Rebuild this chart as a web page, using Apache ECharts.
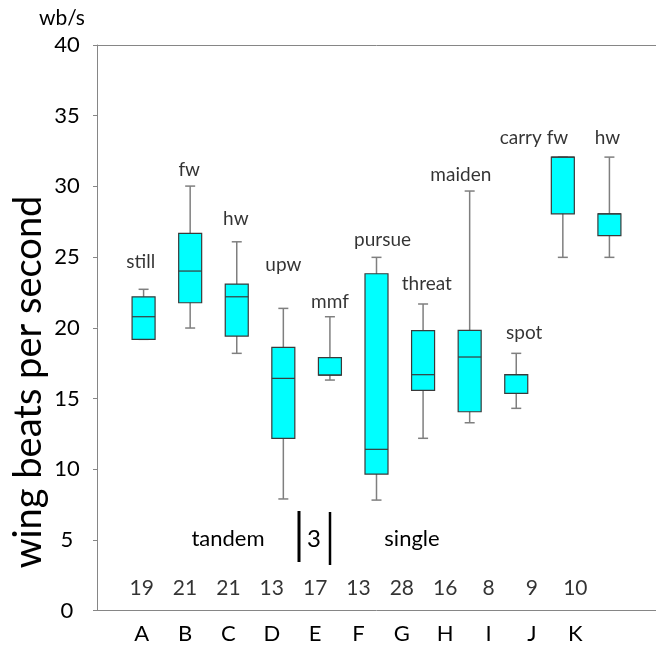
<!DOCTYPE html>
<html><head><meta charset="utf-8">
<script src="https://cdn.jsdelivr.net/npm/echarts@6/dist/echarts.min.js"></script>
<style>html,body{margin:0;padding:0;background:#fff}#c{width:656px;height:645px}</style>
</head><body><div id="c"></div>
<script>
// ---- data ----
const categories = ['A','B','C','D','E','F','G','H','I','J','K'];
const counts = [19, 21, 21, 13, 17, 13, 28, 16, 8, 9, 10];
const whiskerLow  = [19.18, 19.98, 18.19,  7.89, 16.30,  7.81, 12.18, 13.28, 14.30, 24.98, 24.98];
const q1          = [19.18, 21.77, 19.41, 12.18, 16.65,  9.65, 15.57, 14.06, 15.36, 28.06, 26.51];
const median      = [20.78, 24.01, 22.19, 16.42, 16.65, 11.40, 16.68, 17.93, 16.68, 32.07, 28.06];
const q3          = [22.19, 26.68, 23.09, 18.61, 17.88, 23.82, 19.79, 19.82, 16.68, 32.07, 28.06];
const whiskerHigh = [22.72, 30.02, 26.08, 21.37, 20.78, 24.98, 21.68, 29.67, 18.19, 32.07, 32.07];
const yTickValues = [0, 5, 10, 15, 20, 25, 30, 35, 40];
// annotation texts and their anchors in data coordinates
const annotNames = ['still','fw','hw','upw','mmf','pursue','threat','maiden','spot','carry fw','hw'];
const annotX = [0.94, 1.98, 2.98, 4.0, 5.0, 6.13, 7.08, 7.81, 9.17, 9.38, 10.96];
const annotY = [24.65, 31.15, 27.69, 24.43, 21.82, 26.21, 23.09, 30.8, 19.63, 33.42, 33.42];

const FONT = 'Lato, "Open Sans", sans-serif';
const chart = echarts.init(document.getElementById('c'), null, {renderer: 'canvas'});

const boxData = categories.map((c, i) => [i + 1, whiskerLow[i], q1[i], median[i], q3[i], whiskerHigh[i]]);

const option = {
  animation: false,
  backgroundColor: '#fff',
  grid: [
    {left: 97, top: 45, width: 564, height: 565.5, show: false},
    {left: 120, top: 45, width: 477, height: 565.5, show: false}
  ],
  xAxis: [
    {type: 'value', gridIndex: 0, min: 0, max: 12, position: 'bottom',
     axisLine: {show: true, lineStyle: {color: '#868686', width: 1}},
     axisTick: {show: false}, axisLabel: {show: false}, splitLine: {show: false}},
    {type: 'value', gridIndex: 0, min: 0, max: 12, position: 'top',
     axisLine: {show: true, lineStyle: {color: '#868686', width: 1}},
     axisTick: {show: false}, axisLabel: {show: false}, splitLine: {show: false}},
    {type: 'category', gridIndex: 1, data: categories, position: 'bottom',
     axisLine: {show: false}, axisTick: {show: false}, splitLine: {show: false},
     axisLabel: {fontSize: 22, color: '#000', fontFamily: FONT, margin: 15}}
  ],
  yAxis: [
    {type: 'value', gridIndex: 0, min: 0, max: 40, interval: 5,
     axisLine: {show: true, lineStyle: {color: '#868686', width: 1}},
     axisTick: {show: true, length: 4, inside: false, lineStyle: {color: '#868686'}},
     splitLine: {show: false},
     axisLabel: {fontSize: 22, color: '#000', fontFamily: FONT, margin: 30, align: 'center',
       formatter: v => yTickValues.includes(v) ? String(v) : ''}},
    {type: 'value', gridIndex: 1, min: 0, max: 40, show: false}
  ],
  series: [
    {
      type: 'custom', xAxisIndex: 0, yAxisIndex: 0,
      data: boxData,
      encode: {x: 0, y: [1, 2, 3, 4, 5]},
      renderItem: function (params, api) {
        const x = api.value(0);
        const pLo = api.coord([x, api.value(1)]);
        const pQ1 = api.coord([x, api.value(2)]);
        const pMed = api.coord([x, api.value(3)]);
        const pQ3 = api.coord([x, api.value(4)]);
        const pHi = api.coord([x, api.value(5)]);
        const cx = pLo[0], hb = 11.5, hc = 5;
        const whisk = {stroke: '#7f7f7f', lineWidth: 1.5};
        const edge = {stroke: '#3a3a3a', lineWidth: 1.2};
        return {type: 'group', children: [
          {type: 'line', shape: {x1: cx, y1: pHi[1], x2: cx, y2: pLo[1]}, style: whisk},
          {type: 'line', shape: {x1: cx - hc, y1: pHi[1], x2: cx + hc, y2: pHi[1]}, style: whisk},
          {type: 'line', shape: {x1: cx - hc, y1: pLo[1], x2: cx + hc, y2: pLo[1]}, style: whisk},
          {type: 'rect', shape: {x: cx - hb, y: pQ3[1], width: 2 * hb, height: pQ1[1] - pQ3[1]},
           style: {fill: '#00FFFF', stroke: '#3a3a3a', lineWidth: 1.2}},
          {type: 'line', shape: {x1: cx - hb, y1: pMed[1], x2: cx + hb, y2: pMed[1]}, style: edge}
        ]};
      }
    },
    {
      type: 'scatter', xAxisIndex: 0, yAxisIndex: 0, symbolSize: 0, silent: true,
      data: annotNames.map((n, i) => ({name: n, value: [annotX[i], annotY[i]]})),
      label: {show: true, position: 'inside', formatter: '{b}', fontSize: 19, color: '#000', fontFamily: FONT}
    },
    {
      type: 'scatter', xAxisIndex: 2, yAxisIndex: 1, symbolSize: 0, silent: true,
      data: categories.map((c, i) => ({name: String(counts[i]), value: [c, 1.4]})),
      label: {show: true, position: 'inside', formatter: '{b}', fontSize: 21, color: '#000', fontFamily: FONT}
    }
  ],
  graphic: [
    {type: 'text', x: 29, y: 382, rotation: Math.PI / 2,
     style: {text: 'wing beats per second', font: '38px ' + FONT, textAlign: 'center', textVerticalAlign: 'middle', fill: '#000'}},
    {type: 'text', x: 62, y: 18,
     style: {text: 'wb/s', font: '21px ' + FONT, textAlign: 'center', textVerticalAlign: 'middle', fill: '#000'}},
    {type: 'text', x: 228, y: 539,
     style: {text: 'tandem', font: '22px ' + FONT, textAlign: 'center', textVerticalAlign: 'middle', fill: '#000'}},
    {type: 'text', x: 314, y: 539,
     style: {text: '3', font: '24px ' + FONT, textAlign: 'center', textVerticalAlign: 'middle', fill: '#000'}},
    {type: 'text', x: 412, y: 539,
     style: {text: 'single', font: '22px ' + FONT, textAlign: 'center', textVerticalAlign: 'middle', fill: '#000'}},
    {type: 'line', shape: {x1: 299, y1: 511, x2: 299, y2: 562}, style: {stroke: '#000', lineWidth: 3}},
    {type: 'line', shape: {x1: 330, y1: 512, x2: 330, y2: 565}, style: {stroke: '#000', lineWidth: 2.5}}
  ]
};
chart.setOption(option);
</script>
</body></html>
